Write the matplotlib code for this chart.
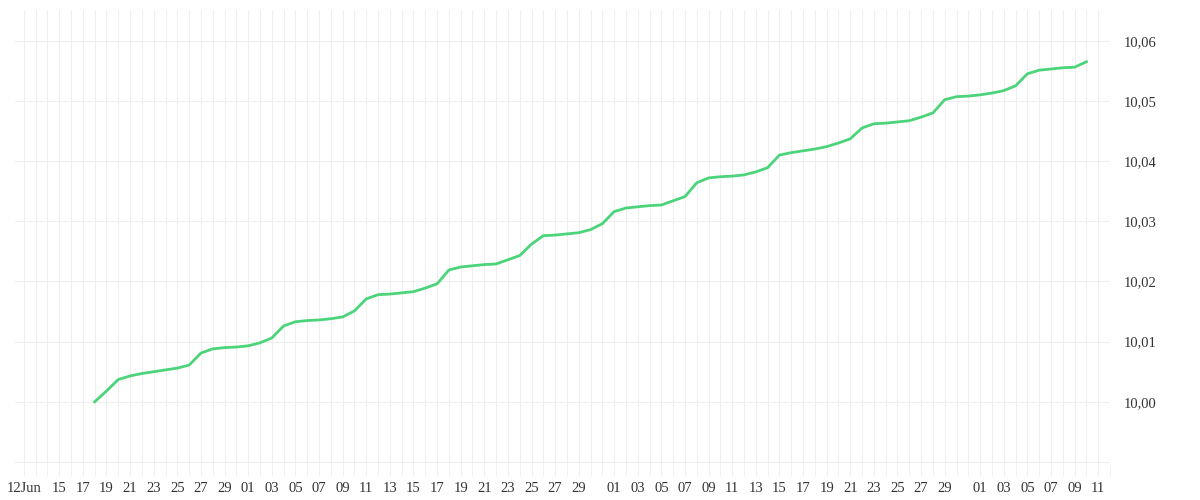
import pandas as pd
import matplotlib.pyplot as plt
import matplotlib.dates as mdates
from matplotlib.ticker import FuncFormatter, MultipleLocator

start_date = "2024-06-18"
values = [10.0000, 10.0018, 10.0037, 10.0043, 10.0047, 10.0050, 10.0053, 10.0056, 10.0061,
          10.0081, 10.0088, 10.0090, 10.0091, 10.0093, 10.0098, 10.0106, 10.0126, 10.0133,
          10.0135, 10.0136, 10.0138, 10.0141, 10.0151, 10.0171, 10.0178, 10.0179, 10.0181,
          10.0183, 10.0189, 10.0196, 10.0219, 10.0224, 10.0226, 10.0228, 10.0229, 10.0236,
          10.0243, 10.0262, 10.0276, 10.0277, 10.0279, 10.0281, 10.0286, 10.0296, 10.0316,
          10.0322, 10.0324, 10.0326, 10.0327, 10.0334, 10.0341, 10.0364, 10.0372, 10.0374,
          10.0375, 10.0377, 10.0382, 10.0389, 10.0410, 10.0414, 10.0417, 10.0420, 10.0424,
          10.0430, 10.0437, 10.0455, 10.0462, 10.0463, 10.0465, 10.0467, 10.0473, 10.0480,
          10.0502, 10.0507, 10.0508, 10.0510, 10.0513, 10.0517, 10.0525, 10.0545, 10.0551,
          10.0553, 10.0555, 10.0556, 10.0565]
dates = pd.date_range(start_date, periods=len(values), freq="D")

# x tick labels: 12Jun then odd days (31st dropped)
tick_dates = [pd.Timestamp("2024-06-12")] + [
    d for d in pd.date_range("2024-06-15", "2024-09-11", freq="D") if d.day % 2 == 1 and d.day != 31]
tick_labels = ["12Jun"] + [d.strftime("%d") for d in tick_dates[1:]]

plt.rcParams["font.family"] = ["Liberation Serif", "DejaVu Serif"]
fig = plt.figure(figsize=(12, 5), dpi=100)
ax = fig.add_axes([0.0125, 0.07, 0.9125, 0.91])

ax.plot(dates, values, color="#4cd47a", lw=2)

ax.set_xlim(pd.Timestamp("2024-06-11 06:00"), pd.Timestamp("2024-09-12"))
ax.set_ylim(9.9895, 10.0651)
ax.set_xticks(tick_dates)
ax.set_xticklabels(tick_labels)
ax.xaxis.set_minor_locator(mdates.DayLocator())
ax.yaxis.set_major_locator(MultipleLocator(0.01))
ax.yaxis.set_major_formatter(FuncFormatter(
    lambda v, p: f"{v:.2f}".replace(".", ",") if v > 9.995 else ""))
ax.yaxis.tick_right()

ax.grid(True, which="major", axis="y", color="#efefef", lw=0.8)
ax.grid(True, which="both", axis="x", color="#efefef", lw=0.8)
ax.set_axisbelow(True)
for s in ax.spines.values():
    s.set_visible(False)
ax.tick_params(axis="both", which="both", length=0, labelsize=10.5, colors="#333333")
ax.tick_params(axis="x", which="both", length=8, color="#efefef", pad=4)
ax.tick_params(axis="y", pad=10)

fig.savefig("out.png")
